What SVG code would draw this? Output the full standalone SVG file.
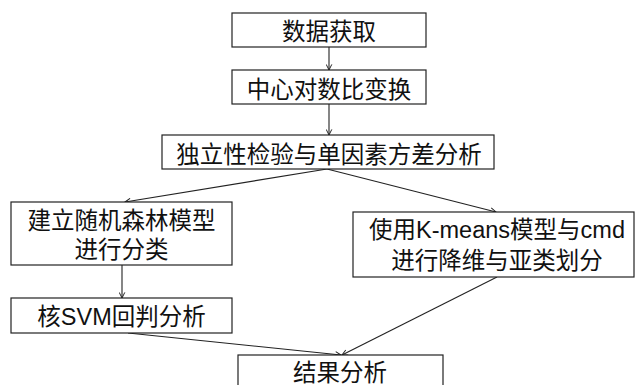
<svg xmlns="http://www.w3.org/2000/svg" width="636" height="385" viewBox="0 0 636 385">
<defs>
<style>
.box{fill:#fff;stroke:#222;stroke-width:1.2}
.t{font-family:"Liberation Sans","Noto Sans CJK SC",sans-serif;font-size:23.5px;fill:#111;text-anchor:middle}
.c{stroke:#222;stroke-width:1.1;fill:none;marker-end:url(#ah)}
</style>
<marker id="ah" viewBox="0 0 10 10" refX="9" refY="5" markerWidth="7" markerHeight="7" markerUnits="userSpaceOnUse" orient="auto">
<path d="M1,1 L9,5 L1,9" fill="none" stroke="#222" stroke-width="1.4"/>
</marker>
</defs>
<rect width="636" height="385" fill="#fff"/>
<g id="connectors">
<line class="c" x1="329" y1="47" x2="329" y2="70"/>
<line class="c" x1="329" y1="104" x2="329" y2="135"/>
<line class="c" x1="327" y1="169" x2="125" y2="202"/>
<line class="c" x1="327" y1="169" x2="496" y2="212"/>
<line class="c" x1="122" y1="265" x2="122" y2="298"/>
<line class="c" x1="128" y1="333" x2="341" y2="355"/>
<line class="c" x1="497" y1="277" x2="342" y2="355"/>
</g>
<g id="n1"><rect class="box" x="232" y="13" width="194" height="34"/><text class="t" x="329" y="40">数据获取</text></g>
<g id="n2"><rect class="box" x="232" y="70" width="194" height="34"/><text class="t" x="329" y="97.5">中心对数比变换</text></g>
<g id="n3"><rect class="box" x="162" y="135" width="332" height="34"/><text class="t" x="329" y="162.5">独立性检验与单因素方差分析</text></g>
<g id="n4"><rect class="box" x="11" y="202" width="221" height="63"/><text class="t" x="121.5" y="229">建立随机森林模型</text><text class="t" x="121.5" y="258">进行分类</text></g>
<g id="n5"><rect class="box" x="11" y="298" width="221" height="35"/><text class="t" x="121.5" y="324.5">核SVM回判分析</text></g>
<g id="n6"><rect class="box" x="353" y="212" width="281" height="65"/><text class="t" x="497" y="238">使用K-means模型与cmd</text><text class="t" x="497" y="268.5">进行降维与亚类划分</text></g>
<g id="n7"><rect class="box" x="238" y="355" width="205" height="40"/><text class="t" x="340" y="380.5">结果分析</text></g>
</svg>
